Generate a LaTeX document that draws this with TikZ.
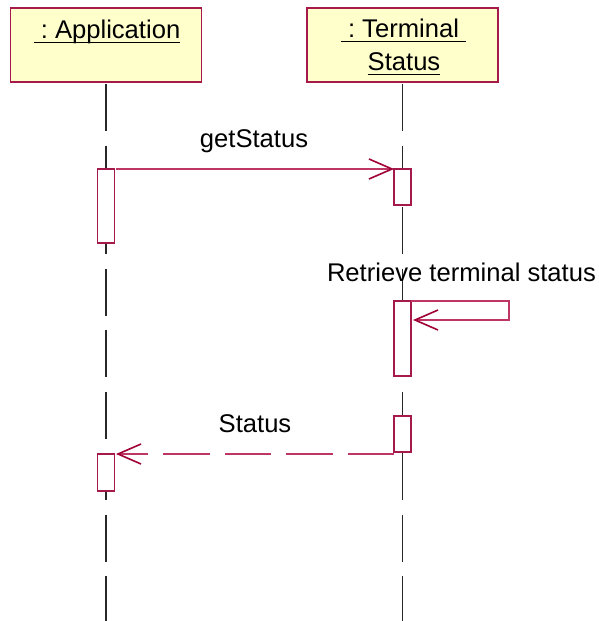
\documentclass[tikz,border=0pt]{standalone}
\usepackage{fontspec}
\setmainfont{Liberation Sans}
\usetikzlibrary{arrows.meta}
\definecolor{boxfill}{RGB}{255,255,204}
\definecolor{boxline}{RGB}{165,25,75}
\definecolor{msgline}{RGB}{190,55,100}
\definecolor{tipcol}{RGB}{160,0,55}
\definecolor{lifecol}{RGB}{40,40,40}
\newcommand\myuline[1]{\setbox0\hbox{#1}\rlap{\rule[-5.1pt]{\wd0}{1.3pt}}\box0}
\begin{document}
\begin{tikzpicture}[x=1pt,y=-1pt,
  actorbox/.style={draw=boxline, fill=boxfill, line width=1.2pt, minimum width=191pt, minimum height=74pt, inner sep=0pt, outer sep=0pt},
  actbar/.style={draw=boxline, fill=white, line width=1.2pt, minimum width=17pt, inner sep=0pt, outer sep=0pt},
  lbl/.style={inner sep=0pt, outer sep=0pt, font=\fontsize{25.6}{30}\selectfont, text=black},
  lifeline/.style={draw=lifecol, line width=1.1pt, dash pattern=on 47pt off 14.5pt},
  msg/.style={draw=msgline, line width=1.2pt, -{Straight Barb[length=23pt,width=20pt,color=tipcol,line width=1.6pt]}},
  retmsg/.style={msg, dash pattern=on 46.5pt off 15pt},
]
\fill[white] (0,0) rectangle (599,621);
\useasboundingbox (0,0) rectangle (599,621);

% actors
\node[actorbox] (app) at (106,45) {};
\node[actorbox] (term) at (402.5,45) {};
\node[lbl, anchor=base] (appname) at (107,38) {\myuline{\ :\ Application}};
\node[lbl, anchor=base] (termname1) at (403.5,37) {\myuline{\ :\ Terminal\ }};
\node[lbl, anchor=base] (termname2) at (404,70) {\myuline{Status}};

% lifelines
\coordinate (appTop) at (106,84);
\coordinate (appBot) at (106,623);
\coordinate (termTop) at (402.5,84);
\coordinate (termBot) at (402.5,623);
\draw[lifeline] (appTop) -- (appBot);
\draw[lifeline] (termTop) -- (termBot);

% activation bars
\node[actbar, minimum height=74pt] (actA1) at (106,206) {};
\node[actbar, minimum height=36pt] (actT1) at (402.5,187) {};
\node[actbar, minimum height=75pt] (actT2) at (402.5,338.5) {};
\node[actbar, minimum height=36pt] (actT3) at (402.5,434) {};
\node[actbar, minimum height=37pt] (actA2) at (106,472.5) {};

% getStatus
\draw[msg, shorten <=1.5pt] (actA1.north east) -- (actT1.north west);
\node[lbl, anchor=base] (getlbl) at (254,147.7) {getStatus};

% self message
\coordinate (selfTR) at (509,301);
\coordinate (selfBR) at (509,320);
\draw[msg, shorten >=2pt] (actT2.north east) -- (selfTR) -- (selfBR) -- (actT2.east |- selfBR);
\node[lbl, anchor=base west] (retlbl) at (327,281) {Retrieve terminal status};

% return
\draw[retmsg, shorten >=1.5pt] (actT3.west |- actA2.north) -- (actA2.north east);
\node[lbl, anchor=base] (statlbl) at (255,432.7) {Status};
\end{tikzpicture}
\end{document}
